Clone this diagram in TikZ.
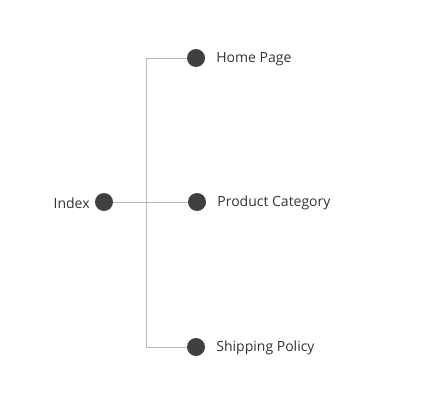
\documentclass[tikz,border=0pt]{standalone}
\usepackage{fontspec}
\setmainfont{Open Sans}
\usetikzlibrary{positioning}

\begin{document}
\begin{tikzpicture}[
        x=1pt, y=-1pt,
        dot/.style  = {circle, fill=black!75, minimum size=18pt, inner sep=0pt},
        lbl/.style  = {font=\fontsize{14}{16}\selectfont, text=black!80, inner sep=0pt, yshift=-1pt},
        link/.style = {draw=black!28, line width=0.9pt},
        node distance = 11pt
    ]
        \useasboundingbox (0,0) rectangle (435,409);
        \node[dot] (idx)  at (104,202) {};
        \node[dot] (home) at (196,58)  {};
        \node[dot] (prod) at (197,202) {};
        \node[dot] (ship) at (196,347) {};
        \coordinate (fork) at (146,202);
        \node[lbl, left=5pt of idx]   (idxl)  {Index};
        \node[lbl, right=of home]     (homel) {Home Page};
        \node[lbl, right=of prod]     (prodl) {Product Category};
        \node[lbl, right=of ship]     (shipl) {Shipping Policy};
        \draw[link] (idx) -- (prod);
        \draw[link] (fork) |- (home);
        \draw[link] (fork) |- (ship);
    \end{tikzpicture}
\end{document}
